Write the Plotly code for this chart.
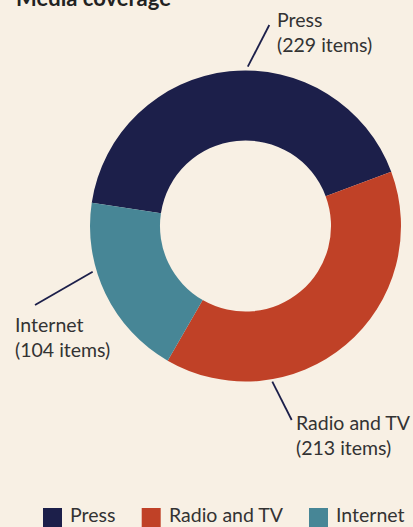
import plotly.graph_objects as go

# ---- data ----
categories = ["Press", "Radio and TV", "Internet"]
items = [229, 213, 104]
colors = ["#1c1f4a", "#c04127", "#478696"]

W, H = 413, 527
BG = "#f8f0e4"
FONT = "Lato"
TXT = "#333333"
FS = 19.5


def px(x):
    return x / W


def py(y):
    return 1 - y / H


fig = go.Figure()
fig.add_trace(go.Pie(
    labels=categories,
    values=items,
    hole=0.55,
    sort=False,
    direction="clockwise",
    rotation=-81.4,
    marker=dict(colors=colors, line=dict(width=0)),
    textinfo="none",
    hoverinfo="label+value",
    domain=dict(x=[px(90), px(401)], y=[py(381.5), py(70.5)]),
    showlegend=False,
))

# outside labels with leader lines (layout positions)
label_pos = [  # (text-left x, block-centre y) in px
    (275, 32),
    (294, 435),
    (13, 337),
]
leaders = [  # line endpoints in px
    ((247.8, 66.7), (269.3, 25.0)),
    ((272.3, 381.7), (291.7, 420.0)),
    ((92.7, 271.7), (35.0, 305.0)),
]
annotations = []
shapes = []
for cat, val, (lx, ly), ((x0, y0), (x1, y1)) in zip(categories, items, label_pos, leaders):
    annotations.append(dict(
        text=f"{cat}<br>({val} items)", x=px(lx), y=py(ly), xref="paper", yref="paper",
        xanchor="left", yanchor="middle", align="left", showarrow=False,
        font=dict(family=FONT, size=FS, color=TXT),
    ))
    shapes.append(dict(type="line", xref="paper", yref="paper",
                       x0=px(x0), y0=py(y0), x1=px(x1), y1=py(y1),
                       line=dict(color="#1c1f4a", width=1.8)))

# custom legend (square swatches)
legend_x = [43, 141.7, 309]
for cat, col, lx in zip(categories, colors, legend_x):
    shapes.append(dict(type="rect", xref="paper", yref="paper",
                       x0=px(lx), x1=px(lx + 19), y0=py(527), y1=py(508),
                       fillcolor=col, line=dict(width=0)))
    annotations.append(dict(
        text=cat, x=px(lx + 25), y=py(514), xref="paper", yref="paper",
        xanchor="left", yanchor="middle", showarrow=False,
        font=dict(family=FONT, size=FS, color=TXT),
    ))

fig.update_layout(
    width=W, height=H,
    margin=dict(l=0, r=0, t=0, b=0),
    paper_bgcolor=BG, plot_bgcolor=BG,
    title=dict(text="<b>Media coverage</b>", xref="container", yref="container",
               x=px(16), xanchor="left", y=py(6), yanchor="bottom",
               font=dict(family=FONT, size=22, color="#222222")),
    annotations=annotations,
    shapes=shapes,
    showlegend=False,
)

fig.write_html("out.html")
